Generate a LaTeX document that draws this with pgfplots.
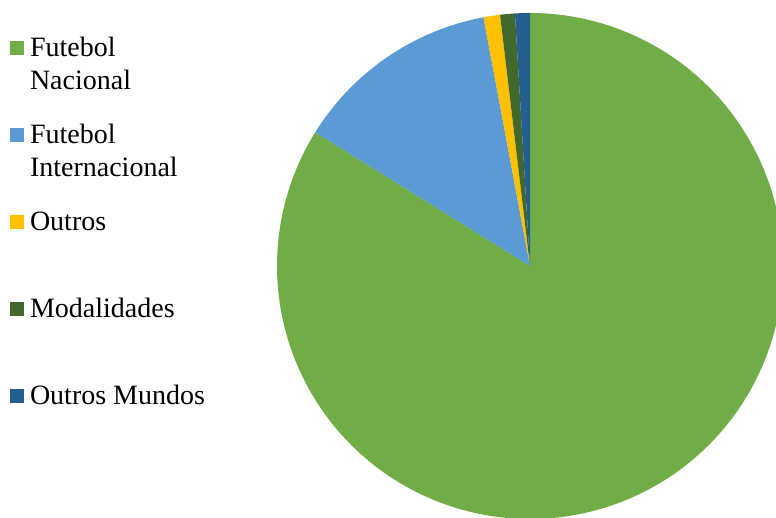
\documentclass[border=0pt]{standalone}
\usepackage{pgfplots}
\usepackage{pgfplotstable}
\pgfplotsset{compat=1.18}
\usepackage{fontspec}
\setmainfont{Liberation Serif}
\definecolor{cNac}{HTML}{70AD47}
\definecolor{cInt}{HTML}{5B9BD5}
\definecolor{cOut}{HTML}{FFC000}
\definecolor{cMod}{HTML}{43682B}
\definecolor{cMun}{HTML}{255E91}
\pgfplotsset{legend image code/.code={\fill[#1] (0pt,2pt) rectangle (13.5pt,15.5pt);}}
\pgfplotstableread{
label share
FN 83.86
FI 13.20
Ou 1.05
Mo 0.94
OM 0.95
}\piedata
\begin{document}
\begin{tikzpicture}
\pgfplotstablegetelem{0}{share}\of\piedata \let\sA\pgfplotsretval
\pgfplotstablegetelem{1}{share}\of\piedata \let\sB\pgfplotsretval
\pgfplotstablegetelem{2}{share}\of\piedata \let\sC\pgfplotsretval
\pgfplotstablegetelem{3}{share}\of\piedata \let\sD\pgfplotsretval
\pgfplotstablegetelem{4}{share}\of\piedata \let\sE\pgfplotsretval
\pgfmathsetmacro{\aA}{90-3.6*\sA}
\pgfmathsetmacro{\aB}{\aA-3.6*\sB}
\pgfmathsetmacro{\aC}{\aB-3.6*\sC}
\pgfmathsetmacro{\aD}{\aC-3.6*\sD}
\pgfmathsetmacro{\aE}{\aD-3.6*\sE}
\useasboundingbox (0,0) rectangle (776pt,518pt);
\begin{axis}[
  at={(0,0)}, anchor=south west, scale only axis,
  width=776pt, height=518pt,
  xmin=0, xmax=776, ymin=0, ymax=518,
  hide axis, clip=true,
  legend cell align=left,
  legend style={draw=none, fill=none, inner sep=0pt, outer sep=0pt,
    at={(axis cs:10,481)}, anchor=north west,
    font=\fontsize{28}{33}\selectfont,
    cells={anchor=base west},
    nodes={inner sep=0pt, outer sep=0pt, text height=20pt, text depth=67pt},
    /tikz/column sep=6.5pt, /tikz/row sep=0pt},
]
\addplot[fill=cNac, draw=none, domain=\aA:90, samples=300, variable=\t]
  ({530+253*cos(\t)},{252+253*sin(\t)}) -- (axis cs:530,252) -- cycle;
\addlegendentry{\begin{tabular}[t]{@{}l@{}}Futebol\\Nacional\end{tabular}}
\addplot[fill=cInt, draw=none, domain=\aB:\aA, samples=60, variable=\t]
  ({530+253*cos(\t)},{252+253*sin(\t)}) -- (axis cs:530,252) -- cycle;
\addlegendentry{\begin{tabular}[t]{@{}l@{}}Futebol\\Internacional\end{tabular}}
\addplot[fill=cOut, draw=none, domain=\aC:\aB, samples=10, variable=\t]
  ({530+253*cos(\t)},{252+253*sin(\t)}) -- (axis cs:530,252) -- cycle;
\addlegendentry{Outros}
\addplot[fill=cMod, draw=none, domain=\aD:\aC, samples=10, variable=\t]
  ({530+253*cos(\t)},{252+253*sin(\t)}) -- (axis cs:530,252) -- cycle;
\addlegendentry{Modalidades}
\addplot[fill=cMun, draw=none, domain=\aE:\aD, samples=10, variable=\t]
  ({530+253*cos(\t)},{252+253*sin(\t)}) -- (axis cs:530,252) -- cycle;
\addlegendentry{Outros Mundos}
\end{axis}
\end{tikzpicture}
\end{document}
